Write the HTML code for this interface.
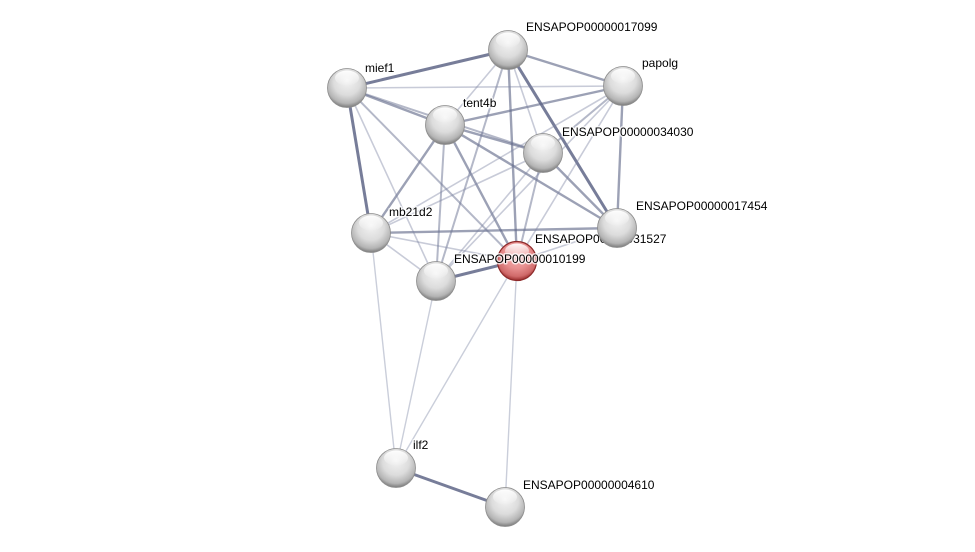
<!DOCTYPE html>
<html>
<head>
<meta charset="utf-8">
<style>
  html, body { margin:0; padding:0; background:#fff; }
  svg { display:block; }
  text { font-family: "Liberation Sans", Arial, sans-serif; font-size:12px; fill:#000;
         paint-order: stroke; stroke:#fff; stroke-width:3px; stroke-opacity:0.75; stroke-linejoin:round; }
</style>
</head>
<body>
<svg width="975" height="552" viewBox="0 0 975 552" xmlns="http://www.w3.org/2000/svg">
  <defs>
    <radialGradient id="gbase" cx="50%" cy="38%" r="62%" fx="50%" fy="30%">
      <stop offset="0%" stop-color="#f4f4f4"/>
      <stop offset="55%" stop-color="#dcdcdc"/>
      <stop offset="85%" stop-color="#b4b4b4"/>
      <stop offset="100%" stop-color="#7a7a7a"/>
    </radialGradient>
    <radialGradient id="rbase" cx="50%" cy="38%" r="62%" fx="50%" fy="30%">
      <stop offset="0%" stop-color="#f6b8b8"/>
      <stop offset="55%" stop-color="#e89090"/>
      <stop offset="85%" stop-color="#d06a6a"/>
      <stop offset="100%" stop-color="#9a2c2c"/>
    </radialGradient>
    <linearGradient id="hl" x1="0" y1="0" x2="0" y2="1">
      <stop offset="0%" stop-color="#fff" stop-opacity="0.95"/>
      <stop offset="100%" stop-color="#fff" stop-opacity="0.05"/>
    </linearGradient>
    <g id="node">
      <circle r="19.5" fill="url(#gbase)" stroke="#8c8c8c" stroke-width="0.8"/>
      <ellipse cx="0" cy="-10" rx="12" ry="7.5" fill="url(#hl)"/>
    </g>
    <g id="rnode">
      <circle r="19.5" fill="url(#rbase)" stroke="#8e2a2a" stroke-width="1.2"/>
      <ellipse cx="0" cy="-10" rx="12" ry="7.5" fill="url(#hl)"/>
    </g>
  </defs>

  <!-- edges -->
  <g stroke-linecap="round" fill="none">
    <!-- thick -->
    <g stroke="#5f6687" stroke-width="3" stroke-opacity="0.85">
      <line x1="508" y1="50" x2="347" y2="88"/>
      <line x1="508" y1="50" x2="617" y2="228"/>
      <line x1="347" y1="88" x2="371" y2="233"/>
      <line x1="517" y1="261" x2="436" y2="281"/>
      <line x1="396" y1="468" x2="505" y2="507"/>
    </g>
    <!-- medium -->
    <g stroke="#606888" stroke-width="2.4" stroke-opacity="0.62">
      <line x1="508" y1="50" x2="623" y2="86"/>
      <line x1="508" y1="50" x2="517" y2="261"/>
      <line x1="347" y1="88" x2="445" y2="125"/>
      <line x1="445" y1="125" x2="623" y2="86"/>
      <line x1="445" y1="125" x2="543" y2="153"/>
      <line x1="445" y1="125" x2="617" y2="228"/>
      <line x1="445" y1="125" x2="371" y2="233"/>
      <line x1="445" y1="125" x2="517" y2="261"/>
      <line x1="623" y1="86" x2="617" y2="228"/>
      <line x1="543" y1="153" x2="617" y2="228"/>
      <line x1="371" y1="233" x2="617" y2="228"/>
    </g>
    <!-- medium-thin -->
    <g stroke="#6a7292" stroke-width="2" stroke-opacity="0.5">
      <line x1="508" y1="50" x2="436" y2="281"/>
      <line x1="347" y1="88" x2="517" y2="261"/>
      <line x1="445" y1="125" x2="436" y2="281"/>
      <line x1="623" y1="86" x2="543" y2="153"/>
      <line x1="543" y1="153" x2="517" y2="261"/>
      <line x1="347" y1="88" x2="543" y2="153"/>
    </g>
    <!-- thin -->
    <g stroke="#7c84a2" stroke-width="1.6" stroke-opacity="0.42">
      <line x1="508" y1="50" x2="445" y2="125"/>
      <line x1="508" y1="50" x2="543" y2="153"/>
      <line x1="347" y1="88" x2="623" y2="86"/>
      <line x1="347" y1="88" x2="436" y2="281"/>
      <line x1="623" y1="86" x2="371" y2="233"/>
      <line x1="623" y1="86" x2="517" y2="261"/>
      <line x1="623" y1="86" x2="436" y2="281"/>
      <line x1="543" y1="153" x2="371" y2="233"/>
      <line x1="543" y1="153" x2="436" y2="281"/>
      <line x1="371" y1="233" x2="517" y2="261"/>
      <line x1="371" y1="233" x2="436" y2="281"/>
      <line x1="517" y1="261" x2="617" y2="228"/>
    </g>
    <!-- very thin -->
    <g stroke="#8a92ae" stroke-width="1.4" stroke-opacity="0.45">
      <line x1="371" y1="233" x2="396" y2="468"/>
      <line x1="436" y1="281" x2="396" y2="468"/>
      <line x1="517" y1="261" x2="396" y2="468"/>
      <line x1="517" y1="261" x2="505" y2="507"/>
    </g>
  </g>

  <!-- nodes -->
  <use href="#node" x="508" y="50"/>
  <use href="#node" x="347" y="88"/>
  <use href="#node" x="623" y="86"/>
  <use href="#node" x="445" y="125"/>
  <use href="#node" x="543" y="153"/>
  <use href="#node" x="371" y="233"/>
  <use href="#rnode" x="517" y="261"/>
  <use href="#node" x="436" y="281"/>
  <use href="#node" x="396" y="468"/>
  <use href="#node" x="505" y="507"/>

  <!-- labels -->
  <text x="526" y="31">ENSAPOP00000017099</text>
  <text x="365" y="72">mief1</text>
  <text x="642" y="67">papolg</text>
  <text x="463" y="107">tent4b</text>
  <text x="562" y="136">ENSAPOP00000034030</text>
  <text x="389" y="216">mb21d2</text>
  <text x="535" y="243">ENSAPOP00000031527</text>

  <use href="#node" x="617" y="228"/>
  <text x="636" y="210">ENSAPOP00000017454</text>

  <text x="454" y="263">ENSAPOP00000010199</text>
  <text x="413" y="449">ilf2</text>
  <text x="523" y="489">ENSAPOP00000004610</text>
</svg>
</body>
</html>
